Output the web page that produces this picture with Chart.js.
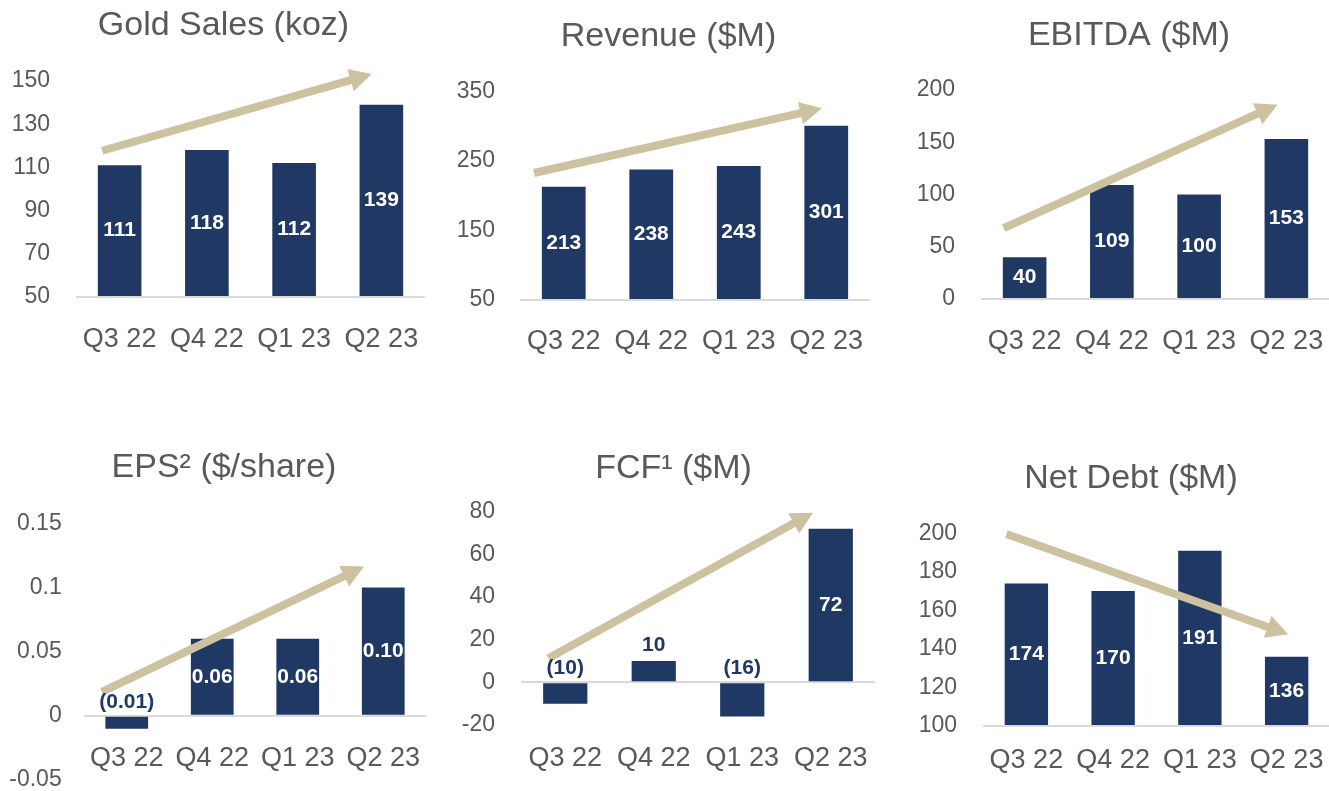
<!DOCTYPE html>
<html><head><meta charset="utf-8">
<script src="https://cdn.jsdelivr.net/npm/chart.js@4.4.0/dist/chart.umd.min.js"></script>
<style>
html,body{margin:0;padding:0;background:#fff;width:1329px;height:791px;overflow:hidden;position:relative}
canvas{position:absolute}
</style></head><body>
<script>
// ---------- DATA ----------
const categories = ['Q3 22','Q4 22','Q1 23','Q2 23'];
const goldSales = [111,118,112,139];
const revenue   = [213,238,243,301];
const ebitda    = [40,109,100,153];
const eps       = [-0.01,0.06,0.06,0.10];
const fcf       = [-10,10,-16,72];
const netDebt   = [174,170,191,136];

const goldTicks    = [50,70,90,110,130,150];
const revenueTicks = [50,150,250,350];
const ebitdaTicks  = [0,50,100,150,200];
const epsTicks     = [-0.05,0,0.05,0.1,0.15];
const fcfTicks     = [-20,0,20,40,60,80];
const netDebtTicks = [100,120,140,160,180,200];

const titles = ['Gold Sales (koz)','Revenue ($M)','EBITDA ($M)','EPS\u00B2 ($/share)','FCF\u00B9 ($M)','Net Debt ($M)'];
const decimals  = [0,0,0,2,0,0];
const baselines = [50,50,0,0,0,100];
// trend arrows, in data units: [category index, value]
const arrowStarts = [[-0.20,117.7],[-0.34,232.9],[-0.24,67.9],[-0.29,0.0186],[-0.19,11.3],[-0.23,199.6]];
const arrowEnds   = [[2.89,153.2],[2.95,326.1],[2.90,186],[2.775,0.1163],[2.80,79.5],[3.02,147.6]];

const series   = [goldSales, revenue, ebitda, eps, fcf, netDebt];
const tickSets = [goldTicks, revenueTicks, ebitdaTicks, epsTicks, fcfTicks, netDebtTicks];

// ---------- LAYOUT / STYLE ----------
const COLORS = {bar:'#1f3864', arrow:'#cdc2a0', text:'#595959', base:'#d9d9d9'};
const FONT = "'Liberation Sans', Arial, sans-serif";
const layouts = [
 {top:0,   areaL:76,  areaR:425,  areaT:81,    areaB:297.3, titleX:223.5,  titleY:26,    yW:90, yPad:26,   xGap:26.8},
 {top:0,   areaL:520, areaR:870,  areaT:91.7,  areaB:300,   titleX:668.3,  titleY:36.7,  yW:90, yPad:25,   xGap:25.8},
 {top:0,   areaL:981, areaR:1330, areaT:90,    areaB:299.3, titleX:1129,   titleY:35.8,  yW:90, yPad:26,   xGap:26.5},
 {top:400, areaL:84,  areaR:426,  areaT:523.3, areaB:780,   titleX:224,    titleY:467.5, yW:84, yPad:22.3, xGap:26.4, xAtBase:true},
 {top:400, areaL:521, areaR:875,  areaT:511.7, areaB:725,   titleX:673.3,  titleY:468.3, yW:90, yPad:26,   xGap:17.1},
 {top:400, areaL:983, areaR:1330, areaT:533.3, areaB:725.5, titleX:1130.8, titleY:478.3, yW:90, yPad:26,   xGap:18.3}
];

Chart.defaults.font.family = FONT;
Chart.defaults.color = COLORS.text;

function fmt(v, d){ const s = Math.abs(v).toFixed(d); return v < 0 ? '(' + s + ')' : s; }

function drawArrow(ctx, x1, y1, x2, y2){
  const ang = Math.atan2(y2 - y1, x2 - x1), L = Math.hypot(x2 - x1, y2 - y1);
  const hl = 22, hw = 11.5, sw = 4;
  ctx.save(); ctx.translate(x1, y1); ctx.rotate(ang);
  ctx.fillStyle = COLORS.arrow;
  ctx.beginPath();
  ctx.moveTo(0, -sw); ctx.lineTo(L - hl, -sw); ctx.lineTo(L - hl, -hw); ctx.lineTo(L, 0);
  ctx.lineTo(L - hl, hw); ctx.lineTo(L - hl, sw); ctx.lineTo(0, sw); ctx.closePath();
  ctx.fill(); ctx.restore();
}

function makePlugin(i){
  return {
    id: 'trend' + i,
    afterDatasetsDraw(chart){
      const {ctx} = chart, x = chart.scales.x, y = chart.scales.y;
      drawArrow(ctx, x.getPixelForValue(arrowStarts[i][0]), y.getPixelForValue(arrowStarts[i][1]),
                     x.getPixelForValue(arrowEnds[i][0]),   y.getPixelForValue(arrowEnds[i][1]));
      const meta = chart.getDatasetMeta(0);
      ctx.save();
      ctx.font = 'bold 21px ' + FONT;
      ctx.textAlign = 'center'; ctx.textBaseline = 'middle';
      meta.data.forEach((bar, k) => {
        const v = series[i][k];
        const h = Math.abs(bar.base - bar.y);
        let ty, col;
        if (v < 0) { ty = bar.base - 15; col = COLORS.bar; }
        else if (h < 30) { ty = bar.y - 16; col = COLORS.bar; }
        else { ty = (bar.y + bar.base) / 2; col = '#ffffff'; }
        ctx.fillStyle = col;
        ctx.fillText(fmt(v, decimals[i]), bar.x, ty);
      });
      ctx.restore();
    }
  };
}

layouts.forEach((p, i) => {
  const cLeft = p.areaL - p.yW;
  const cWidth = Math.round(2 * (p.titleX - cLeft));
  const rightW = cLeft + cWidth - p.areaR;   // spare room right of the plot (empty right axis)
  const padB = p.xAtBase ? 45 : 0;
  const cHeight = Math.round(p.areaB - p.top + (p.xAtBase ? padB : 70));
  const tLH = 34 * 1.2;
  const tPadTop = p.titleY - p.top - tLH / 2;
  const tPadBottom = p.areaT - p.top - tLH - tPadTop;

  const cv = document.createElement('canvas');
  cv.width = cWidth; cv.height = cHeight;
  cv.style.left = cLeft + 'px'; cv.style.top = p.top + 'px';
  cv.style.width = cWidth + 'px'; cv.style.height = cHeight + 'px';
  document.body.appendChild(cv);

  const ticks = tickSets[i];
  const base = baselines[i];
  new Chart(cv, {
    type: 'bar',
    data: {
      labels: categories,
      datasets: [{
        data: series[i],
        backgroundColor: COLORS.bar,
        barPercentage: 0.5,
        categoryPercentage: 1.0,
        base: base
      }]
    },
    options: {
      responsive: false, animation: false, devicePixelRatio: 1,
      layout: {padding: {left: 0, right: 0, top: 0, bottom: padB}},
      plugins: {
        legend: {display: false},
        tooltip: {enabled: false},
        title: {
          display: true, text: titles[i], color: COLORS.text,
          font: {family: FONT, size: 34, weight: 'normal', lineHeight: 1.2},
          padding: {top: tPadTop, bottom: tPadBottom}
        }
      },
      scales: {
        x: {
          type: 'category',
          position: p.xAtBase ? {y: base} : 'bottom',
          offset: true,
          grid: {display: false, drawTicks: true, tickLength: p.xGap},
          border: {display: false},
          ticks: {color: COLORS.text, font: {size: 27}, padding: 0, maxRotation: 0, autoSkip: false},
          afterFit: s => { s.height = 70; }
        },
        y: {
          min: ticks[0], max: ticks[ticks.length - 1],
          grid: {
            drawTicks: false,
            color: c => (c.tick && Math.abs(c.tick.value - base) < 1e-9) ? COLORS.base : 'rgba(0,0,0,0)',
            lineWidth: 2
          },
          border: {display: false},
          ticks: {
            color: COLORS.text, font: {size: 23}, padding: p.yPad, autoSkip: false,
            callback: v => String(Math.round(v * 1000) / 1000)
          },
          afterBuildTicks: s => { s.ticks = ticks.map(v => ({value: v})); },
          afterFit: s => { s.width = p.yW; }
        },
        yRight: {
          type: 'linear', position: 'right', display: true,
          grid: {display: false, drawTicks: false},
          border: {display: false},
          ticks: {display: false},
          afterFit: s => { s.width = rightW; }
        }
      }
    },
    plugins: [makePlugin(i)]
  });
});
</script>
</body></html>
